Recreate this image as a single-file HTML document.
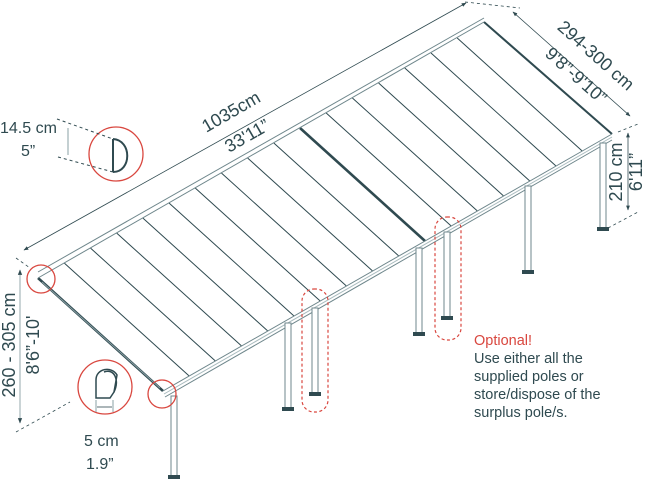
<!DOCTYPE html>
<html><head><meta charset="utf-8"><style>
html,body{margin:0;padding:0;background:#fff;}
svg{display:block;font-family:"Liberation Sans",sans-serif;}
</style></head><body>
<svg width="647" height="480" viewBox="0 0 647 480" xmlns="http://www.w3.org/2000/svg">
<defs>
<marker id="ar" viewBox="0 0 10 10" refX="9" refY="5" markerWidth="6" markerHeight="6" orient="auto-start-reverse"><path d="M0,1 L10,5 L0,9z" fill="#2f4a50"/></marker>
</defs>
<g stroke="#2f4a50" fill="none">
<line x1="24" y1="250" x2="466" y2="3" stroke-width="0.8" marker-start="url(#ar)" marker-end="url(#ar)"/>
<line x1="16" y1="258" x2="30" y2="268" stroke-width="0.8" stroke-dasharray="3,3"/>
<line x1="513" y1="12" x2="630" y2="116" stroke-width="0.8" marker-start="url(#ar)" marker-end="url(#ar)"/>
<line x1="465" y1="2" x2="520" y2="8" stroke-width="0.8" stroke-dasharray="3,3"/>
<line x1="618" y1="132" x2="638" y2="124" stroke-width="0.8" stroke-dasharray="3,3"/>
<line x1="628" y1="133" x2="628" y2="210" stroke-width="0.8" marker-start="url(#ar)" marker-end="url(#ar)"/>
<line x1="608" y1="228" x2="638" y2="212" stroke-width="0.8" stroke-dasharray="3,3"/>
<line x1="20" y1="270" x2="20" y2="423" stroke-width="0.9" stroke="#8aa0a4" marker-start="url(#ar)" marker-end="url(#ar)"/>
<line x1="16" y1="432" x2="70" y2="402" stroke-width="0.8" stroke-dasharray="3,3"/>
</g>
<polygon points="38,278 484,22 612,134 163,391" fill="#fff" stroke="none"/>
<g stroke="#2f4a50" stroke-width="1">
<line x1="64.2" y1="263" x2="189.2" y2="376"/><line x1="90.4" y1="248" x2="215.4" y2="361"/><line x1="116.6" y1="233" x2="241.6" y2="346"/><line x1="142.8" y1="218" x2="267.8" y2="331"/><line x1="169" y1="203" x2="294" y2="316"/><line x1="195.2" y1="188" x2="320.2" y2="301"/><line x1="221.4" y1="173" x2="346.4" y2="286"/><line x1="247.6" y1="158" x2="372.6" y2="271"/><line x1="273.8" y1="143" x2="398.8" y2="256"/>
<line x1="300" y1="128" x2="425" y2="241" stroke-width="2.6"/>
<line x1="326.2" y1="113" x2="451.2" y2="226"/><line x1="352.4" y1="98" x2="477.4" y2="211"/><line x1="378.6" y1="83" x2="503.6" y2="196"/><line x1="404.8" y1="68" x2="529.8" y2="181"/><line x1="431" y1="53" x2="556" y2="166"/><line x1="457.2" y1="38" x2="582.2" y2="151"/>
<line x1="484" y1="22" x2="612" y2="134" stroke-width="2"/>
<line x1="38" y1="278" x2="163" y2="391" stroke-width="2.6"/>
<line x1="42" y1="282" x2="160" y2="388" stroke="#8aa0a4" stroke-width="1"/>
</g>
<g stroke="#6f878c" stroke-width="1" fill="none">
<line x1="38" y1="278" x2="484" y2="22"/><line x1="38" y1="272" x2="484" y2="18"/>
<line x1="163" y1="391" x2="612" y2="134"/><line x1="165" y1="397" x2="612" y2="140"/><line x1="164" y1="394" x2="612" y2="137" stroke="#a9bbbe"/>
</g>
<g stroke="#6f878c" stroke-width="1" fill="#fff">
<rect x="171" y="396" width="6" height="82"/>
<rect x="285" y="323" width="6" height="86"/>
<rect x="312" y="308" width="6" height="86"/>
<rect x="416" y="248" width="6" height="86"/>
<rect x="444" y="232" width="6" height="86"/>
<rect x="525" y="186" width="6" height="86"/>
<rect x="600" y="143" width="6" height="86"/>
</g>
<g fill="#2f4a50">
<rect x="168" y="475" width="12" height="4"/>
<rect x="282" y="407" width="12" height="4"/>
<rect x="309" y="392" width="12" height="4"/>
<rect x="413" y="332" width="12" height="4"/>
<rect x="441" y="316" width="12" height="4"/>
<rect x="522" y="270" width="12" height="4"/>
<rect x="597" y="227" width="12" height="4"/>
</g>
<g stroke="#d9473f" stroke-width="1.2" fill="none" stroke-dasharray="3,2.5">
<rect x="302" y="289" width="26" height="123" rx="12"/>
<rect x="435" y="217" width="26" height="123" rx="12"/>
</g>
<g stroke="#d9473f" stroke-width="1.3" fill="none">
<circle cx="116" cy="154" r="27"/>
<circle cx="41" cy="279" r="14"/>
<circle cx="105" cy="387" r="27"/>
<circle cx="162" cy="394" r="14"/>
</g>
<g stroke="#2f4a50" fill="none" stroke-width="1">
<line x1="57" y1="119" x2="113" y2="139" stroke-dasharray="3,3"/>
<line x1="58" y1="157" x2="113" y2="172" stroke-dasharray="3,3"/>
<line x1="68" y1="128" x2="68" y2="155" stroke="#8aa0a4"/>
<path d="M113,139 L113,172 M113,139 C132,140 132,172 113,172" stroke-width="2"/>
<path d="M96,398 L96,380 C96,368 112,366 117,375 L114,392 L110,398 Z" stroke-width="1.5"/>
<path d="M104,372 C114,368 120,380 114,392" stroke-width="1.5"/>
<line x1="96" y1="400" x2="96" y2="412" stroke="#8aa0a4"/>
<line x1="113" y1="400" x2="113" y2="412" stroke="#8aa0a4"/>
<line x1="97" y1="407" x2="112" y2="407" stroke-width="0.8"/>
</g>
<g fill="#2f4a50" font-size="16">
<text x="0" y="133">14.5 cm</text>
<text x="21" y="156">5”</text>
<text x="84" y="446">5 cm</text>
<text x="86" y="469">1.9”</text>
</g>
<g fill="#2f4a50" font-size="18">
<text transform="translate(234,117) rotate(-29.8)" text-anchor="middle">1035cm</text>
<text transform="translate(250,141) rotate(-29.8)" text-anchor="middle">33'11”</text>
<text transform="translate(592,60) rotate(41.5)" text-anchor="middle">294-300 cm</text>
<text transform="translate(572,80) rotate(41.5)" text-anchor="middle">9'8”-9'10”</text>
<text transform="translate(622,172) rotate(-90)" text-anchor="middle">210 cm</text>
<text transform="translate(642,172) rotate(-90)" text-anchor="middle">6'11”</text>
<text transform="translate(15,345) rotate(-90)" text-anchor="middle">260 - 305 cm</text>
<text transform="translate(39,345) rotate(-90)" text-anchor="middle">8'6”-10'</text>
</g>
<g font-size="14.5" fill="#2f4a50">
<text x="474" y="345" fill="#d9473f">Optional!</text>
<text x="474" y="363">Use either all the</text>
<text x="474" y="381">supplied poles or</text>
<text x="474" y="399">store/dispose of the</text>
<text x="474" y="417">surplus pole/s.</text>
</g>
</svg>
</body></html>
